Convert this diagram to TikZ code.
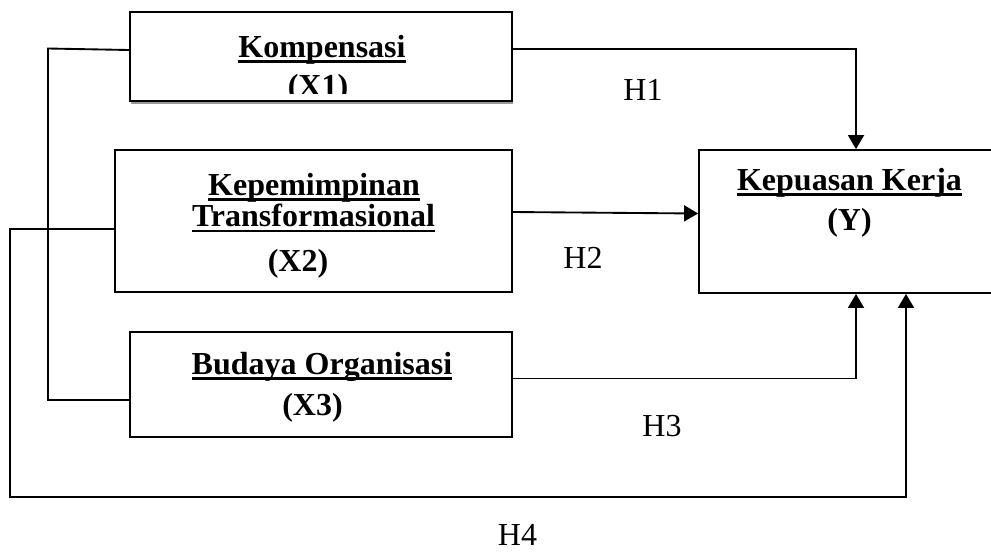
\documentclass[tikz,border=0pt]{standalone}
\usepackage{fontspec}
\setmainfont{Liberation Serif}
\usetikzlibrary{arrows.meta,shadows}
\newcommand\ulw[1]{\setbox0\hbox{#1}\rlap{\rule[-4.2pt]{\wd0}{2pt}}\box0}
\begin{document}
\begin{tikzpicture}[x=0.75pt,y=-0.75pt,
  box/.style={draw, line width=1.4pt, fill=white, inner sep=0pt},
  lab/.style={anchor=base, inner sep=0pt, font=\fontsize{24}{28}\selectfont\bfseries},
  hyp/.style={anchor=base, inner sep=0pt, font=\fontsize{24}{28}\selectfont},
  con/.style={line width=1.4pt},
  arr/.style={con, -{Triangle[length=10.5pt,width=12pt]}}]
\useasboundingbox (0,0) rectangle (991,551);
% boxes
\node[box, minimum width=286.5pt, minimum height=66.75pt,
      drop shadow={shadow xshift=1pt, shadow yshift=-2.6pt, fill=black!40, opacity=1}]
      (x1) at (321,56.5) {};
\node[box, minimum width=297.75pt, minimum height=106.5pt] (x2) at (313.5,221) {};
\node[box, minimum width=286.5pt, minimum height=78.75pt] (x3) at (321,384.5) {};
\node[box, minimum width=221.25pt, minimum height=107.25pt] (y) at (846.5,221.5) {};
% texts
\node[lab] (t1a) at (322,57) {\ulw{Kompensasi}};
\begin{scope}
\clip (131,13) rectangle (511,93);
\node[lab] (t1b) at (318,96) {(X1)};
\end{scope}
\node[lab] (t2a) at (314,195) {\ulw{Kepemimpinan}};
\node[lab] (t2b) at (313.5,226.7) {\ulw{Transformasional}};
\node[lab] (t2c) at (298,271.7) {(X2)};
\node[lab] (t3a) at (322,374) {\ulw{Budaya Organisasi}};
\node[lab] (t3b) at (312.5,415) {(X3)};
\node[lab] (tya) at (849.5,190) {\ulw{Kepuasan Kerja}};
\node[lab] (tyb) at (849.5,230) {(Y)};
% hypothesis labels
\node[hyp] (h1) at (643,100.7) {H1};
\node[hyp] (h2) at (583,268) {H2};
\node[hyp] (h3) at (662,436.7) {H3};
\node[hyp] (h4) at (517.5,545) {H4};
% helper coordinates
\coordinate (c1) at (856,49);
\coordinate (c3) at (856,378.5);
\coordinate (c4a) at (10,229);
\coordinate (c4b) at (906,497);
\coordinate (cla) at (48,48.5);
\coordinate (clb) at (48,400);
% connectors
\draw[arr] (x1.east |- c1) -| (y.north -| c1);
\draw[arr] (x2.east |- 0,212) -- (y.west |- 0,213.5);
\draw[arr] (x3.east |- c3) -| (y.south -| c3);
\draw[arr] (x2.west |- c4a) -- (c4a) |- (c4b) -- (y.south -| c4b);
\draw[con] (x1.west |- 0,50) -- (cla) -- (clb) -- (x3.west |- clb);
\end{tikzpicture}
\end{document}
